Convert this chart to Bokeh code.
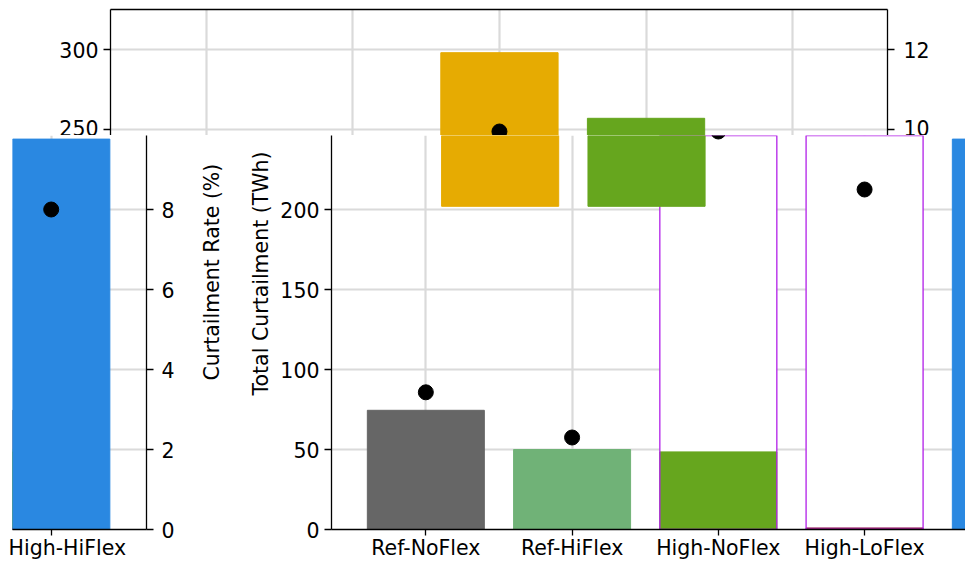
from bokeh.plotting import figure
from bokeh.layouts import row, column
from bokeh.models import (Range1d, LinearAxis, FixedTicker, Grid, Title,
                          ColumnDataSource)
from bokeh.embed import file_html
from bokeh.resources import INLINE

NAN = float("nan")

# ---------------- data ----------------
categories = ["Ref-NoFlex", "Ref-HiFlex", "High-NoFlex", "High-LoFlex", "High-HiFlex"]
cat_index = [0, 1, 2, 3, 4]

# upper (shifted) copy of the chart, seen in the top strip
upper_twh = [74.5, 50.0, 298.0, 257.0, NAN]
upper_rate = [3.43, 2.3, 9.95, NAN, 8.0]
upper_colors = ["#666666", "#70b277", "#e6ab02", "#66a61e", "#2a88e1"]
# lowest visible edge of the upper copy's bars inside the lower copy
upper_band_floor = [NAN, NAN, 202.0, 202.0, NAN]

# lower copy of the chart
lower_twh = [74.5, 50.0, 48.5, 1.0, 244.0]
lower_rate = [3.43, 2.3, 9.95, 8.5, 8.0]
lower_colors = ["#666666", "#70b277", "#66a61e", "#9c2a6b", "#2a88e1"]

# outlined (unfilled) bars in the lower copy
outline_index = [2, 3]
outline_twh = [330.0, 330.0]

twh_ticks = [0, 50, 100, 150, 200, 250, 300]
rate_ticks = [0, 2, 4, 6, 8, 10, 12]

FONT = "DejaVu Sans"
FS = "20.5px"
GRID = "#dadada"


def make_fig(w, h, xr, yr, rr, bl, br, bt, bb):
    p = figure(width=w, height=h, x_range=xr, y_range=yr,
               x_axis_type=None, y_axis_type=None,
               toolbar_location=None, output_backend="svg",
               min_border_left=bl, min_border_right=br,
               min_border_top=bt, min_border_bottom=bb)
    p.frame_align = False
    p.extra_y_ranges = {"rate": rr}
    p.outline_line_color = None
    p.background_fill_color = "white"
    p.border_fill_color = "white"
    p.add_layout(Grid(dimension=0, ticker=FixedTicker(ticks=cat_index),
                      grid_line_color=GRID, grid_line_width=2.2))
    p.add_layout(Grid(dimension=1, ticker=FixedTicker(ticks=twh_ticks),
                      grid_line_color=GRID, grid_line_width=2.2))
    return p


def style_axis(ax, standoff=9, labels=True):
    ax.axis_line_color = "black"
    ax.axis_line_width = 1.3
    ax.major_tick_line_color = "black"
    ax.major_tick_line_width = 1.3
    ax.major_tick_out = 7
    ax.major_tick_in = 0
    ax.minor_tick_line_color = None
    ax.major_label_text_font = FONT
    ax.major_label_text_color = "black"
    ax.major_label_standoff = standoff
    ax.major_label_text_font_size = FS if labels else "0px"
    return ax


def cat_axis(p, ticks):
    ax = LinearAxis(ticker=FixedTicker(ticks=ticks),
                    major_label_overrides={i: c for i, c in zip(cat_index, categories)})
    style_axis(ax, standoff=0)
    ax.major_tick_out = 6
    p.add_layout(ax, "below")


upper_src = ColumnDataSource(dict(x=cat_index, twh=upper_twh, rate=upper_rate,
                                  floor=upper_band_floor, color=upper_colors))
lower_src = ColumnDataSource(dict(x=cat_index, twh=lower_twh, rate=lower_rate,
                                  color=lower_colors))

# ---------------- top strip (upper copy) ----------------
f_top = make_fig(965, 135, Range1d(-0.653, 4.647), Range1d(246.25, 325.0),
                 Range1d(9.85, 13.0), 110, 78, 9, 0)
spine = LinearAxis(ticker=FixedTicker(ticks=[]))
style_axis(spine, standoff=0, labels=False)
spine.major_tick_out = 0
f_top.add_layout(spine, "above")
f_top.add_layout(style_axis(LinearAxis(ticker=FixedTicker(ticks=twh_ticks)),
                            standoff=5), "left")
f_top.add_layout(style_axis(LinearAxis(ticker=FixedTicker(ticks=rate_ticks),
                                       y_range_name="rate")), "right")
f_top.vbar(x="x", top="twh", width=0.8, color="color", source=upper_src)
f_top.scatter(x="x", y="rate", size=15, color="black", y_range_name="rate",
              source=upper_src)

# ---------------- lower left (wrapped High-HiFlex) ----------------
f_l = make_fig(180, 427, Range1d(3.736, 4.650), Range1d(0.0, 246.25),
               Range1d(0.0, 9.85), 12, 34, 0, 33)
f_l.add_layout(style_axis(LinearAxis(ticker=FixedTicker(ticks=rate_ticks[:5]),
                                     y_range_name="rate"), standoff=8), "right")
cat_axis(f_l, [4])
f_l.vbar(x="x", top="twh", width=0.8, color="color", source=lower_src)
f_l.scatter(x="x", y="rate", size=15, color="black", y_range_name="rate",
            source=lower_src)

# ---------------- lower main ----------------
f_m = make_fig(785, 427, Range1d(-0.645, 3.690), Range1d(0.0, 246.25),
               Range1d(0.0, 9.85), 150, 0, 0, 33)
f_m.extra_x_ranges = {"upper": Range1d(0.848, 5.179)}
f_m.add_layout(style_axis(LinearAxis(ticker=FixedTicker(ticks=twh_ticks[:5])),
                          standoff=5), "left")
cat_axis(f_m, cat_index)
f_m.add_layout(Title(text="Total Curtailment (TWh)", align="left", offset=134,
                     standoff=10, text_font=FONT, text_font_size=FS,
                     text_font_style="normal", text_color="black"), "left")
f_m.add_layout(Title(text="Curtailment Rate (%)", align="left", offset=149,
                     standoff=35, text_font=FONT, text_font_size=FS,
                     text_font_style="normal", text_color="black"), "left")

f_m.vbar(x=outline_index, top=outline_twh, width=0.8, fill_color="white", line_color=None)
f_m.vbar(x="x", top="twh", width=0.8, color="color", source=lower_src)
f_m.vbar(x=outline_index, top=outline_twh, width=0.8, fill_color=None,
         line_color="#b21fe8", line_width=1.3)
f_m.vbar(x="x", bottom="floor", top="twh", width=0.8, color="color",
         source=upper_src, x_range_name="upper")
f_m.scatter(x="x", y="rate", size=15, color="black", y_range_name="rate",
            source=lower_src)

layout = column(f_top, row(f_l, f_m))

open("out.html", "w").write(file_html(layout, INLINE))
